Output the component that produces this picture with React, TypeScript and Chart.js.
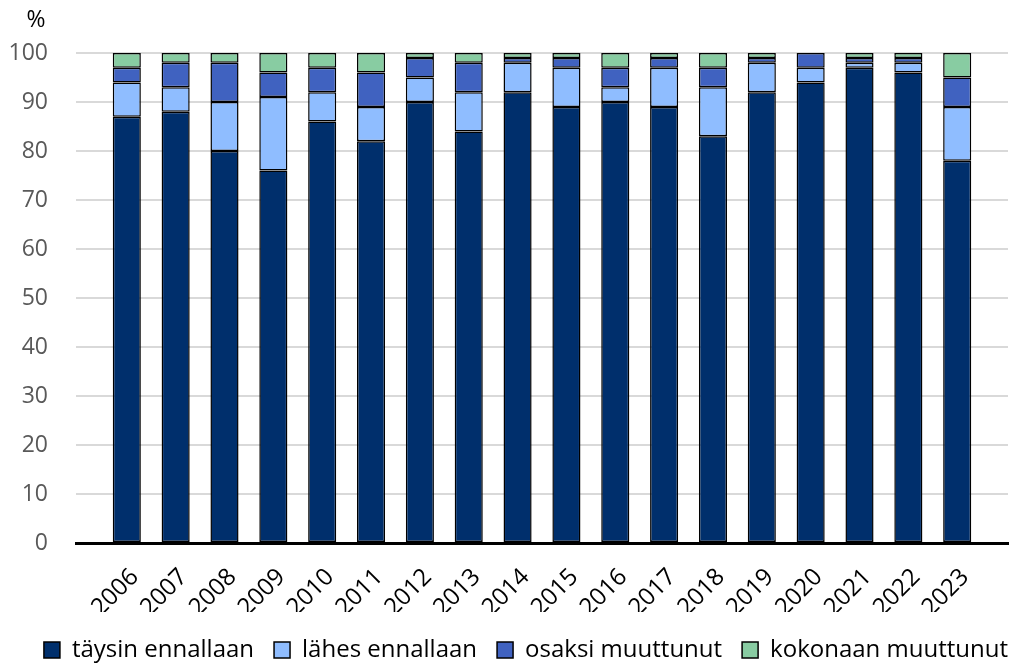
import React, { useEffect, useRef } from "react";
import { Chart, registerables } from "chart.js";

Chart.register(...registerables);

const years = ["2006","2007","2008","2009","2010","2011","2012","2013","2014","2015","2016","2017","2018","2019","2020","2021","2022","2023"];
const taysin = [87, 88, 80, 76, 86, 82, 90, 84, 92, 89, 90, 89, 83, 92, 94, 97, 96, 78];
const lahes = [7, 5, 10, 15, 6, 7, 5, 8, 6, 8, 3, 8, 10, 6, 3, 1, 2, 11];
const osaksi = [3, 5, 8, 5, 5, 7, 4, 6, 1, 2, 4, 2, 4, 1, 3, 1, 1, 6];
const kokonaan = [3, 2, 2, 4, 3, 4, 1, 2, 1, 1, 3, 1, 3, 1, 0, 1, 1, 5];
const yTicks = [0, 10, 20, 30, 40, 50, 60, 70, 80, 90, 100];

const FONT = "'Open Sans', sans-serif";

const pctPlugin = {
  id: "pctLabel",
  afterLayout(chart: any) {
    const lg = chart.legend;
    if (lg) {
      lg.left += 20;
      lg.right += 20;
      lg.top += 6;
      lg.bottom += 6;
    }
  },
  afterDraw(chart: any) {
    const ctx = chart.ctx;
    ctx.save();
    ctx.font = `23px ${FONT}`;
    ctx.fillStyle = "#000";
    ctx.textAlign = "center";
    ctx.textBaseline = "middle";
    ctx.fillText("%", 36, 20);
    ctx.restore();
  },
};

export default function App() {
  const ref = useRef<HTMLCanvasElement | null>(null);
  useEffect(() => {
    if (!ref.current) return;
    const mk = (label: string, vals: number[], color: string) => ({
      label,
      data: vals.map((v, i) => ({ x: i, y: v })),
      backgroundColor: color,
      borderColor: "#000",
      borderWidth: 1.5,
      borderSkipped: false,
      barPercentage: 0.575,
      categoryPercentage: 1,
    });
    const chart = new Chart(ref.current, {
      type: "bar",
      data: {
        datasets: [
          mk("täysin ennallaan", taysin, "#002F6C"),
          mk("lähes ennallaan", lahes, "#8FBDFF"),
          mk("osaksi muuttunut", osaksi, "#4062C0"),
          mk("kokonaan muuttunut", kokonaan, "#88CCA2"),
        ],
      },
      options: {
        animation: false,
        responsive: true,
        maintainAspectRatio: false,
        layout: { padding: { top: 53, right: 8, left: 0, bottom: 0 } },
        plugins: {
          tooltip: { enabled: false },
          legend: {
            position: "bottom",
            align: "end",
            labels: {
              color: "#000",
              font: { family: FONT, size: 24 },
              boxWidth: 16,
              boxHeight: 16,
              padding: 20,
            },
          },
        },
        scales: {
          x: {
            type: "linear",
            offset: false,
            stacked: true,
            min: -1.04,
            max: 18.04,
            afterBuildTicks(scale: any) {
              scale.ticks = years.map((_, i) => ({ value: i }));
            },
            afterFit(scale: any) {
              scale.height = 69;
            },
            grid: { display: false },
            border: { color: "#000", width: 3 },
            ticks: {
              color: "#000",
              font: { family: FONT, size: 24 },
              minRotation: 45,
              maxRotation: 45,
              padding: 12,
              labelOffset: 8,
              autoSkip: false,
              callback: (v: any) => years[v as number] ?? "",
            },
          },
          y: {
            stacked: true,
            min: 0,
            max: 100,
            afterBuildTicks(scale: any) {
              scale.ticks = yTicks.map((v) => ({ value: v }));
            },
            afterFit(scale: any) {
              scale.width = 76;
            },
            grid: { color: "#d9d9d9", lineWidth: 2, drawTicks: false },
            border: { display: false },
            ticks: {
              color: "#595959",
              font: { family: FONT, size: 23 },
              padding: 28,
            },
          },
        },
      },
      plugins: [pctPlugin],
    });
    return () => chart.destroy();
  }, []);
  return (
    <div style={{ position: "absolute", left: 0, top: 0, width: 1016, height: 666, background: "#fff" }}>
      <canvas ref={ref} />
    </div>
  );
}
